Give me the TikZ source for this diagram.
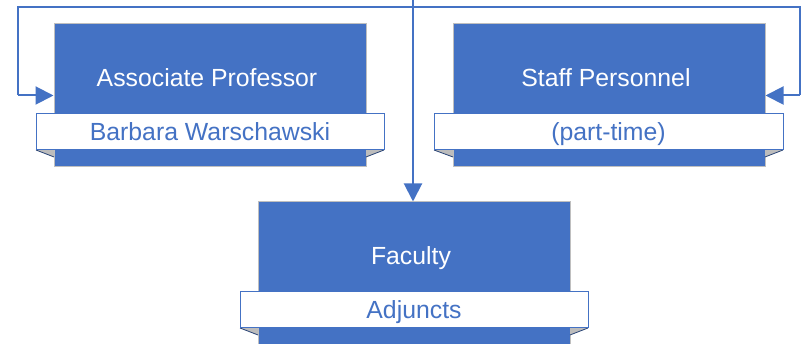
\documentclass[tikz,border=0pt]{standalone}
\usepackage{fontspec}
\setmainfont{Liberation Sans}
\usetikzlibrary{arrows.meta,calc}
\definecolor{accent}{HTML}{4472C4}
\definecolor{edgegray}{HTML}{BFBFBF}
\definecolor{foldgray}{HTML}{BCBCBC}
\tikzset{
  box/.style={rectangle, fill=accent, draw=edgegray, line width=1pt, minimum width=312pt, minimum height=#1, inner sep=0pt},
  band/.style={rectangle, fill=white, draw=accent, line width=1pt, minimum width=348pt, minimum height=36pt, inner sep=0pt,
    text=accent, font=\fontsize{24.8}{28}\selectfont, text height=17.5pt, text depth=0pt},
  title/.style={anchor=base, text=white, font=\fontsize{24.8}{28}\selectfont, inner sep=0pt},
  fold/.style={fill=foldgray, draw=none},
  foldedge/.style={draw=accent!60!black, line width=0.8pt},
  conn/.style={draw=accent, line width=2pt, -{Triangle[length=18pt,width=18pt]}},
  plain/.style={draw=accent, line width=2pt}
}
\begin{document}
\begin{tikzpicture}[x=1pt,y=-1pt]
\useasboundingbox (0,0) rectangle (804,344);
\begin{scope}
\clip (0,0) rectangle (804,344);
% boxes
\node[box=143pt] (assoc) at (210,95.5) {};
\node[box=143pt] (staff) at (609,95.5) {};
\node[box=190pt] (fac) at (414,297) {};
% folds
\fill[foldgray] (36,150) -- (54,150) -- (54,157) -- cycle;
\draw[foldedge] (36,150) -- (54,157);
\fill[foldgray] (384,150) -- (366,150) -- (366,157) -- cycle;
\draw[foldedge] (384,150) -- (366,157);
\fill[foldgray] (434,150) -- (453,150) -- (453,157) -- cycle;
\draw[foldedge] (434,150) -- (453,157);
\fill[foldgray] (783,150) -- (765,150) -- (765,157) -- cycle;
\draw[foldedge] (783,150) -- (765,157);
\fill[foldgray] (240,328) -- (258,328) -- (258,335) -- cycle;
\draw[foldedge] (240,328) -- (258,335);
\fill[foldgray] (588,328) -- (570,328) -- (570,335) -- cycle;
\draw[foldedge] (588,328) -- (570,335);
% bands
\node[band] (assocband) at (210,132) {Barbara Warschawski};
\node[band, minimum width=349pt] (staffband) at (608.5,132) {(part-time)};
\node[band] (facband) at (414,310) {Adjuncts};
% titles
\node[title] (assoct) at (207,87) {Associate Professor};
\node[title] (stafft) at (606,87) {Staff Personnel};
\node[title] (fact) at (411,265) {Faculty};
% connectors
\coordinate (top) at (413,-2);
\coordinate (hub) at (413,7.5);
\coordinate (lc) at (18,95.5);
\coordinate (rc) at (800,95.5);
\draw[conn] (top) -- (fac.north -| top);
\draw[plain] (hub) -| (lc);
\draw[conn] (lc) -- (assoc.west);
\draw[plain] (hub) -| (rc);
\draw[conn] (rc) -- (staff.east);
\end{scope}
\end{tikzpicture}
\end{document}
